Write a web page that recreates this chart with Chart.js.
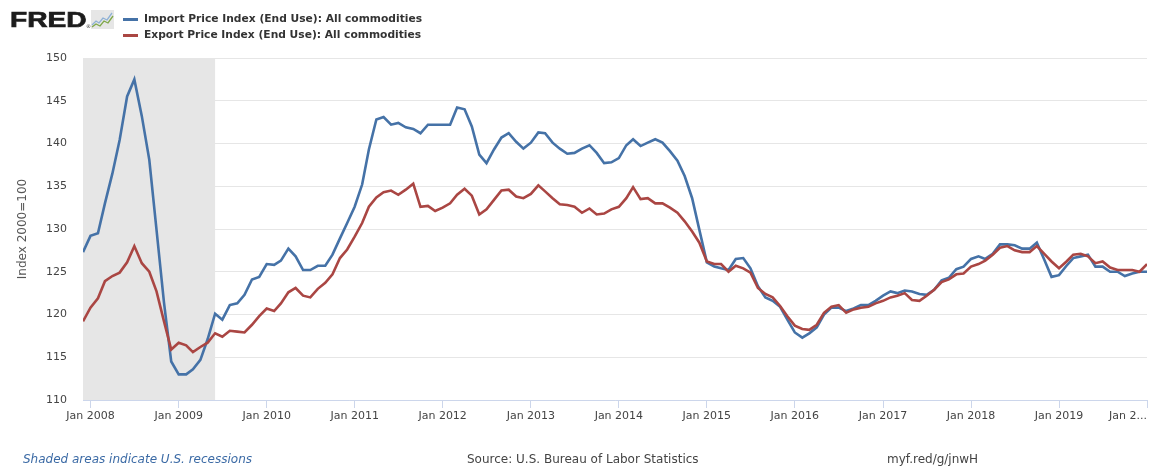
<!DOCTYPE html>
<html>
<head>
<meta charset="utf-8">
<script src="https://cdn.jsdelivr.net/npm/chart.js@4.4.0/dist/chart.umd.min.js"></script>
<style>
html,body{margin:0;padding:0;background:#fff;}
#wrap{position:relative;width:1168px;height:470px;overflow:hidden;font-family:"DejaVu Sans",sans-serif;}
#c{position:absolute;left:0;top:0;}
.logo{position:absolute;left:10px;top:9px;font:bold 22px/1 "Liberation Sans",Arial,sans-serif;color:#1c1c1c;transform:scaleX(1.28);transform-origin:0 0;-webkit-text-stroke:0.7px #1c1c1c;}
.reg{position:absolute;left:86px;top:24px;font:5px/1 "DejaVu Sans",sans-serif;color:#333;}
.icon{position:absolute;left:91px;top:10px;}
.sw{position:absolute;left:123px;width:15px;height:3px;}
.lg{position:absolute;left:144px;font:bold 10.7px/14px "DejaVu Sans",sans-serif;color:#333;white-space:nowrap;}
.ft{position:absolute;top:452px;font:12px/14px "DejaVu Sans",sans-serif;color:#444;white-space:nowrap;}
</style>
</head>
<body>
<div id="wrap">
  <canvas id="c" width="1168" height="470"></canvas>
  <div class="logo">FRED</div>
  <div class="reg">®</div>
  <svg class="icon" width="23" height="19" viewBox="0 0 23 19">
    <rect x="0" y="0" width="23" height="19" fill="#e6e6e6"/>
    <polyline points="1,15 5,11 8,13 12,8 16,10 21,3" fill="none" stroke="#8fb1d6" stroke-width="1.3"/>
    <polyline points="1,17 5,14 9,16 13,11 17,13 22,6" fill="none" stroke="#7fa84a" stroke-width="1.3"/>
  </svg>
  <div class="sw" style="top:18px;background:#4572a7"></div>
  <div class="lg" style="top:12px">Import Price Index (End Use): All commodities</div>
  <div class="sw" style="top:34px;background:#aa4643"></div>
  <div class="lg" style="top:28px">Export Price Index (End Use): All commodities</div>
  <div class="ft" style="left:23px;color:#3b6aa5;font-style:italic">Shaded areas indicate U.S. recessions</div>
  <div class="ft" style="left:467px">Source: U.S. Bureau of Labor Statistics</div>
  <div class="ft" style="left:887px">myf.red/g/jnwH</div>
</div>
<script>
// First observation: Dec 2007, monthly through Jan 2020
const firstMonth = [2007, 12];

// Import Price Index (End Use): All commodities, Index 2000=100
const importIdx = [
  127.3,
  129.2,129.5,133.0,136.5,140.4,145.5,147.5,143.2,138.1,129.9,121.4,114.5,
  113.0,113.0,113.6,114.7,117.1,120.1,119.4,121.1,121.3,122.3,124.1,124.4,
  125.9,125.8,126.3,127.7,126.8,125.2,125.2,125.7,125.7,127.0,128.9,130.7,
  132.6,135.2,139.3,142.8,143.1,142.2,142.4,141.9,141.7,141.2,142.2,142.2,
  142.2,142.2,144.2,144.0,142.0,138.7,137.7,139.3,140.7,141.2,140.2,139.4,
  140.1,141.3,141.2,140.1,139.4,138.8,138.9,139.4,139.8,138.9,137.7,137.8,
  138.3,139.8,140.5,139.7,140.1,140.5,140.1,139.1,138.0,136.2,133.6,129.9,
  126.1,125.6,125.4,125.2,126.5,126.6,125.4,123.3,122.0,121.6,120.9,119.4,
  117.9,117.3,117.8,118.5,120.0,120.8,120.8,120.4,120.7,121.1,121.1,121.6,
  122.2,122.7,122.5,122.8,122.7,122.4,122.3,122.9,124.0,124.3,125.3,125.6,
  126.5,126.8,126.5,127.1,128.2,128.2,128.1,127.7,127.7,128.4,126.4,124.4,
  124.6,125.7,126.6,126.8,127.0,125.6,125.6,125.0,125.0,124.5,124.8,125.0,
  125.0
];

// Export Price Index (End Use): All commodities, Index 2000=100
const exportIdx = [
  119.2,
  120.8,121.9,123.9,124.5,124.9,126.1,128.0,126.0,125.0,122.7,119.2,115.9,
  116.7,116.4,115.6,116.2,116.7,117.8,117.4,118.1,118.0,117.9,118.8,119.8,
  120.7,120.4,121.3,122.6,123.1,122.2,122.0,123.0,123.7,124.7,126.6,127.6,
  129.1,130.7,132.6,133.7,134.3,134.5,134.0,134.6,135.3,132.6,132.7,132.1,
  132.5,133.0,134.0,134.7,133.9,131.7,132.3,133.4,134.5,134.6,133.8,133.6,
  134.1,135.1,134.4,133.6,132.9,132.8,132.6,131.9,132.4,131.7,131.8,132.3,
  132.6,133.6,134.9,133.5,133.6,133.0,133.0,132.5,131.9,130.9,129.7,128.4,
  126.2,125.9,125.9,125.0,125.7,125.4,124.9,123.1,122.4,122.0,121.0,119.8,
  118.7,118.3,118.2,118.8,120.2,120.9,121.1,120.2,120.6,120.8,120.9,121.3,
  121.6,122.0,122.2,122.5,121.7,121.6,122.2,122.9,123.8,124.1,124.7,124.8,
  125.6,125.9,126.3,127.0,127.8,128.0,127.5,127.3,127.3,128.0,127.1,126.2,
  125.4,126.2,127.0,127.1,126.8,126.0,126.2,125.5,125.2,125.2,125.2,125.0,
  125.9
];

// x-axis tick dates and labels
const tickDates = ['2008-01','2009-01','2010-01','2011-01','2012-01','2013-01','2014-01','2015-01','2016-01','2017-01','2018-01','2019-01','2020-01'];
const tickLabels = ['Jan 2008','Jan 2009','Jan 2010','Jan 2011','Jan 2012','Jan 2013','Jan 2014','Jan 2015','Jan 2016','Jan 2017','Jan 2018','Jan 2019','Jan 2...'];

// recession (shaded)
const recession = ['2007-12', '2009-06'];

// y ticks
const yMin = 110, yMax = 150, yStep = 5;

function dayNum(s) { const [y, m] = s.split('-').map(Number); return Date.UTC(y, m - 1, 1) / 864e5; }

// month categories
const months = importIdx.map((_, i) => {
  const t = firstMonth[1] - 1 + i;
  const y = firstMonth[0] + Math.floor(t / 12), m = (t % 12) + 1;
  return y + '-' + String(m).padStart(2, '0');
});

const recessionPlugin = {
  id: 'recession',
  beforeDatasetsDraw(chart) {
    const { ctx, chartArea, scales: { x } } = chart;
    const x0 = x.getPixelForValue(dayNum(recession[0]));
    const x1 = x.getPixelForValue(dayNum(recession[1]));
    ctx.save();
    ctx.fillStyle = '#e6e6e6';
    ctx.fillRect(x0, chartArea.top, x1 - x0, chartArea.bottom - chartArea.top);
    ctx.restore();
  }
};

const xLabelPlugin = {
  id: 'xLabels',
  afterDraw(chart) {
    const { ctx, chartArea, scales: { x } } = chart;
    ctx.save();
    ctx.font = '11px "DejaVu Sans", sans-serif';
    ctx.fillStyle = '#444';
    ctx.textBaseline = 'middle';
    tickDates.forEach((d, i) => {
      const px = x.getPixelForValue(dayNum(d));
      const label = tickLabels[i];
      const w = ctx.measureText(label).width;
      let tx = px;
      ctx.textAlign = 'center';
      if (px + w / 2 > chartArea.right) { ctx.textAlign = 'right'; tx = chartArea.right; }
      ctx.fillText(label, tx, x.top + 16);
    });
    ctx.restore();
  }
};

new Chart(document.getElementById('c'), {
  type: 'line',
  data: {
    datasets: [
      {
        label: 'Import Price Index (End Use): All commodities',
        data: importIdx.map((v, i) => ({ x: dayNum(months[i]), y: v })),
        borderColor: '#4572a7',
        borderWidth: 2.6,
        pointRadius: 0,
        tension: 0,
        order: 2
      },
      {
        label: 'Export Price Index (End Use): All commodities',
        data: exportIdx.map((v, i) => ({ x: dayNum(months[i]), y: v })),
        borderColor: '#aa4643',
        borderWidth: 2.6,
        pointRadius: 0,
        tension: 0,
        order: 1
      }
    ]
  },
  options: {
    responsive: false,
    animation: false,
    devicePixelRatio: 1,
    layout: { padding: { top: 58, right: 21, bottom: 62, left: 0 } },
    plugins: { legend: { display: false }, tooltip: { enabled: false } },
    scales: {
      x: {
        type: 'linear',
        min: dayNum(months[0]),
        max: dayNum(months[months.length - 1]),
        afterBuildTicks(scale) { scale.ticks = tickDates.map(d => ({ value: dayNum(d) })); },
        afterFit(scale) { scale.height = 8; },
        ticks: { display: false },
        grid: { display: true, drawOnChartArea: false, drawTicks: true, tickLength: 8, color: '#ccd6eb', lineWidth: 1 },
        border: { display: true, color: '#ccd6eb', width: 1 }
      },
      y: {
        min: yMin,
        max: yMax,
        afterFit(scale) { scale.width = 83; },
        ticks: { stepSize: yStep, color: '#444', font: { family: 'DejaVu Sans', size: 11 }, padding: 16 },
        grid: { color: '#e6e6e6', lineWidth: 1, drawTicks: false },
        border: { display: false },
        title: { display: true, text: 'Index 2000=100', color: '#555', font: { family: 'DejaVu Sans', size: 12 }, padding: { top: 16, bottom: 0 } }
      }
    }
  },
  plugins: [recessionPlugin, xLabelPlugin]
});
</script>
</body>
</html>
